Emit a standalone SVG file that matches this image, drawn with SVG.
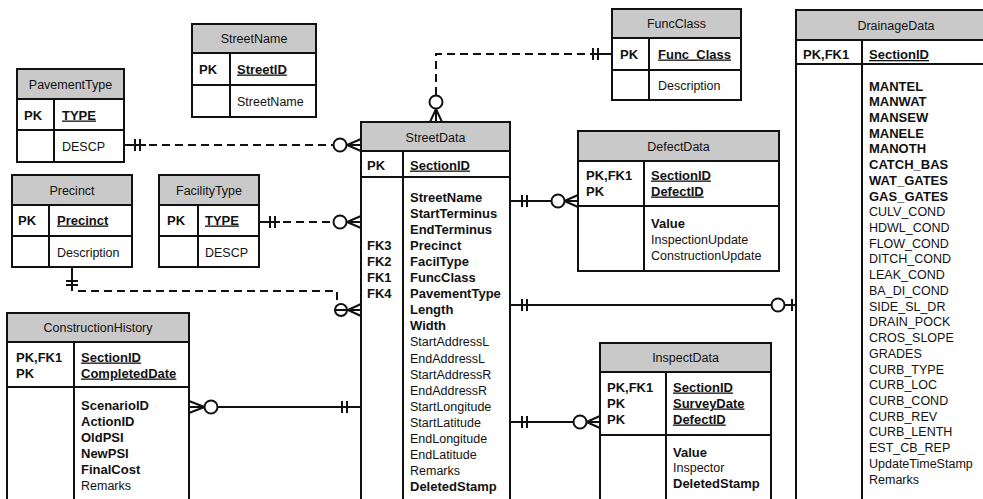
<svg xmlns="http://www.w3.org/2000/svg" width="983" height="499" viewBox="0 0 983 499">
<style>
  .box { fill: #ffffff; stroke: #111; stroke-width: 2; }
  .hd { fill: #c9c9c9; stroke: #111; stroke-width: 2; }
  .ln { stroke: #111; stroke-width: 2; fill: none; }
  text { font-family: "Liberation Sans", Arial, Helvetica, sans-serif; fill: #111; }
  .t { font-size: 12.5px; }
  .h { font-size: 12.5px; text-anchor: middle; }
  .b { font-size: 13px; font-weight: bold; }
  .u { text-decoration: underline; }
  .c { stroke: #111; stroke-width: 2; fill: none; }
  .d { stroke: #111; stroke-width: 2; fill: none; stroke-dasharray: 8 5; }
  .o { stroke: #111; stroke-width: 2; fill: #fff; }
</style>
<rect width="983" height="499" fill="#fff"/>

<!-- StreetName -->
<g id="StreetName">
  <rect class="box" x="192" y="24" width="124" height="93"/>
  <rect class="hd" x="192" y="24" width="124" height="29"/>
  <line class="ln" x1="192" y1="85" x2="316" y2="85"/>
  <line class="ln" x1="230" y1="53" x2="230" y2="117"/>
  <text class="h" x="254" y="42.5">StreetName</text>
  <text class="b" x="199" y="73.5">PK</text>
  <text class="b u" x="237" y="73.5">StreetID</text>
  <text class="t" x="237" y="105.5">StreetName</text>
</g>

<!-- PavementType -->
<g id="PavementType">
  <rect class="box" x="17" y="69" width="107" height="93"/>
  <rect class="hd" x="17" y="69" width="107" height="30"/>
  <line class="ln" x1="17" y1="130" x2="124" y2="130"/>
  <line class="ln" x1="54" y1="99" x2="54" y2="162"/>
  <text class="h" x="70.5" y="88.5">PavementType</text>
  <text class="b" x="24" y="119.5">PK</text>
  <text class="b u" x="62" y="119.5">TYPE</text>
  <text class="t" x="62" y="150.5">DESCP</text>
</g>

<!-- FuncClass -->
<g id="FuncClass">
  <rect class="box" x="612" y="9" width="129" height="91"/>
  <rect class="hd" x="612" y="9" width="129" height="29"/>
  <line class="ln" x1="612" y1="70" x2="741" y2="70"/>
  <line class="ln" x1="649" y1="38" x2="649" y2="100"/>
  <text class="h" x="676.5" y="27.5">FuncClass</text>
  <text class="b" x="620" y="58.5">PK</text>
  <text class="b u" x="658" y="58.5">Func_Class</text>
  <text class="t" x="658" y="89.5">Description</text>
</g>

<!-- Precinct -->
<g id="Precinct">
  <rect class="box" x="12" y="175" width="120" height="92"/>
  <rect class="hd" x="12" y="175" width="120" height="30"/>
  <line class="ln" x1="12" y1="236" x2="132" y2="236"/>
  <line class="ln" x1="49" y1="205" x2="49" y2="267"/>
  <text class="h" x="72" y="194.5">Precinct</text>
  <text class="b" x="18" y="224.5">PK</text>
  <text class="b u" x="57" y="224.5">Precinct</text>
  <text class="t" x="57" y="256.5">Description</text>
</g>

<!-- FacilityType -->
<g id="FacilityType">
  <rect class="box" x="159" y="175" width="100" height="92"/>
  <rect class="hd" x="159" y="175" width="100" height="30"/>
  <line class="ln" x1="159" y1="236" x2="259" y2="236"/>
  <line class="ln" x1="198" y1="205" x2="198" y2="267"/>
  <text class="h" x="209" y="194.5">FacilityType</text>
  <text class="b" x="167" y="224.5">PK</text>
  <text class="b u" x="205" y="224.5">TYPE</text>
  <text class="t" x="205" y="256.5">DESCP</text>
</g>

<!-- StreetData -->
<g id="StreetData">
  <rect class="box" x="361" y="122" width="149" height="385"/>
  <rect class="hd" x="361" y="122" width="149" height="29"/>
  <line class="ln" x1="361" y1="177" x2="510" y2="177"/>
  <line class="ln" x1="403" y1="151" x2="403" y2="507"/>
  <text class="h" x="435.5" y="141.5">StreetData</text>
  <text class="b" x="367" y="169.5">PK</text>
  <text class="b u" x="410" y="169.5">SectionID</text>
  <text class="b" x="367" y="249.8">FK3</text>
  <text class="b" x="367" y="265.9">FK2</text>
  <text class="b" x="367" y="282">FK1</text>
  <text class="b" x="367" y="298.1">FK4</text>
  <text class="b" x="410" y="201.5">StreetName</text>
  <text class="b" x="410" y="217.6">StartTerminus</text>
  <text class="b" x="410" y="233.7">EndTerminus</text>
  <text class="b" x="410" y="249.8">Precinct</text>
  <text class="b" x="410" y="265.9">FacilType</text>
  <text class="b" x="410" y="282">FuncClass</text>
  <text class="b" x="410" y="298.1">PavementType</text>
  <text class="b" x="410" y="314.2">Length</text>
  <text class="b" x="410" y="330.3">Width</text>
  <text class="t" x="410" y="346.4">StartAddressL</text>
  <text class="t" x="410" y="362.5">EndAddressL</text>
  <text class="t" x="410" y="378.6">StartAddressR</text>
  <text class="t" x="410" y="394.7">EndAddressR</text>
  <text class="t" x="410" y="410.8">StartLongitude</text>
  <text class="t" x="410" y="426.9">StartLatitude</text>
  <text class="t" x="410" y="443">EndLongitude</text>
  <text class="t" x="410" y="459.1">EndLatitude</text>
  <text class="t" x="410" y="475.2">Remarks</text>
  <text class="b" x="410" y="491.3">DeletedStamp</text>
</g>

<!-- DefectData -->
<g id="DefectData">
  <rect class="box" x="578" y="131" width="201" height="140"/>
  <rect class="hd" x="578" y="131" width="201" height="30"/>
  <line class="ln" x1="578" y1="206" x2="779" y2="206"/>
  <line class="ln" x1="644" y1="161" x2="644" y2="271"/>
  <text class="h" x="678.5" y="150.5">DefectData</text>
  <text class="b" x="586" y="179.5">PK,FK1</text>
  <text class="b" x="586" y="195.5">PK</text>
  <text class="b u" x="651" y="179.5">SectionID</text>
  <text class="b u" x="651" y="195.5">DefectID</text>
  <text class="b" x="651" y="227.5">Value</text>
  <text class="t" x="651" y="243.5">InspectionUpdate</text>
  <text class="t" x="651" y="259.5">ConstructionUpdate</text>
</g>

<!-- DrainageData -->
<g id="DrainageData">
  <rect class="box" x="796" y="10" width="200" height="500"/>
  <rect class="hd" x="796" y="10" width="200" height="30"/>
  <line class="ln" x1="796" y1="64" x2="996" y2="64"/>
  <line class="ln" x1="862" y1="40" x2="862" y2="510"/>
  <text class="h" x="896" y="29.5">DrainageData</text>
  <text class="b" x="803" y="59">PK,FK1</text>
  <text class="b u" x="869" y="59">SectionID</text>
  <text class="b" x="869" y="90.5">MANTEL</text>
  <text class="b" x="869" y="106.2">MANWAT</text>
  <text class="b" x="869" y="121.9">MANSEW</text>
  <text class="b" x="869" y="137.7">MANELE</text>
  <text class="b" x="869" y="153.4">MANOTH</text>
  <text class="b" x="869" y="169.1">CATCH_BAS</text>
  <text class="b" x="869" y="184.8">WAT_GATES</text>
  <text class="b" x="869" y="200.5">GAS_GATES</text>
  <text class="t" x="869" y="216.3">CULV_COND</text>
  <text class="t" x="869" y="232">HDWL_COND</text>
  <text class="t" x="869" y="247.7">FLOW_COND</text>
  <text class="t" x="869" y="263.4">DITCH_COND</text>
  <text class="t" x="869" y="279.1">LEAK_COND</text>
  <text class="t" x="869" y="294.9">BA_DI_COND</text>
  <text class="t" x="869" y="310.6">SIDE_SL_DR</text>
  <text class="t" x="869" y="326.3">DRAIN_POCK</text>
  <text class="t" x="869" y="342">CROS_SLOPE</text>
  <text class="t" x="869" y="357.7">GRADES</text>
  <text class="t" x="869" y="373.5">CURB_TYPE</text>
  <text class="t" x="869" y="389.2">CURB_LOC</text>
  <text class="t" x="869" y="404.9">CURB_COND</text>
  <text class="t" x="869" y="420.6">CURB_REV</text>
  <text class="t" x="869" y="436.3">CURB_LENTH</text>
  <text class="t" x="869" y="452.1">EST_CB_REP</text>
  <text class="t" x="869" y="467.8">UpdateTimeStamp</text>
  <text class="t" x="869" y="483.5">Remarks</text>
</g>

<!-- ConstructionHistory -->
<g id="ConstructionHistory">
  <rect class="box" x="7" y="313" width="182" height="197"/>
  <rect class="hd" x="7" y="313" width="182" height="29"/>
  <line class="ln" x1="7" y1="387" x2="189" y2="387"/>
  <line class="ln" x1="74" y1="342" x2="74" y2="510"/>
  <text class="h" x="98" y="331.5">ConstructionHistory</text>
  <text class="b" x="16" y="361.5">PK,FK1</text>
  <text class="b" x="16" y="377.5">PK</text>
  <text class="b u" x="81" y="361.5">SectionID</text>
  <text class="b u" x="81" y="377.5">CompletedDate</text>
  <text class="b" x="81" y="409.5">ScenarioID</text>
  <text class="b" x="81" y="425.5">ActionID</text>
  <text class="b" x="81" y="441.5">OldPSI</text>
  <text class="b" x="81" y="457.5">NewPSI</text>
  <text class="b" x="81" y="473.5">FinalCost</text>
  <text class="t" x="81" y="489.5">Remarks</text>
</g>

<!-- InspectData -->
<g id="InspectData">
  <rect class="box" x="600" y="343" width="171" height="167"/>
  <rect class="hd" x="600" y="343" width="171" height="29"/>
  <line class="ln" x1="600" y1="435" x2="771" y2="435"/>
  <line class="ln" x1="666" y1="372" x2="666" y2="510"/>
  <text class="h" x="685.5" y="361.5">InspectData</text>
  <text class="b" x="607" y="391.5">PK,FK1</text>
  <text class="b" x="607" y="407.5">PK</text>
  <text class="b" x="607" y="423.5">PK</text>
  <text class="b u" x="673" y="391.5">SectionID</text>
  <text class="b u" x="673" y="407.5">SurveyDate</text>
  <text class="b u" x="673" y="423.5">DefectID</text>
  <text class="b" x="673" y="456.5">Value</text>
  <text class="t" x="673" y="471.5">Inspector</text>
  <text class="b" x="673" y="487.5">DeletedStamp</text>
</g>

<!-- Relationships -->
<g id="connectors">
  <!-- PavementType 1 : N StreetData -->
  <path class="c" d="M124 145 H146"/>
  <path class="c" d="M135 139 V151 M140 139 V151"/>
  <path class="d" d="M149 145 H333"/>
  <circle class="o" cx="340" cy="145" r="6.5"/>
  <path class="c" d="M347 145 H361 M347 145 L361 139 M347 145 L361 151"/>

  <!-- FacilityType 1 : N StreetData -->
  <path class="c" d="M259 222 H280"/>
  <path class="c" d="M270 216 V228 M275 216 V228"/>
  <path class="d" d="M283 222 H333"/>
  <circle class="o" cx="340" cy="222" r="6.5"/>
  <path class="c" d="M347 222 H361 M347 222 L361 216 M347 222 L361 228"/>

  <!-- Precinct 1 : N StreetData -->
  <path class="c" d="M72 267 V291"/>
  <path class="c" d="M66 281 H78 M66 285 H78"/>
  <path class="d" d="M78 291 H337 V304"/>
  <path class="c" d="M334 310 H361"/>
  <circle class="o" cx="341" cy="310" r="6" fill="none" style="fill:none"/>
  <path class="c" d="M348 310 L361 304 M348 310 L361 316"/>

  <!-- FuncClass 1 : N StreetData -->
  <path class="d" d="M436 95 V54 H588"/>
  <path class="c" d="M590 54 H612"/>
  <path class="c" d="M593 48 V60 M598 48 V60"/>
  <circle class="o" cx="436" cy="102" r="6.5"/>
  <path class="c" d="M436 109 V122 M436 109 L430 122 M436 109 L442 122"/>

  <!-- StreetData 1 : N DefectData -->
  <path class="c" d="M510 201 H551.5"/>
  <path class="c" d="M522 195 V207 M527 195 V207"/>
  <circle class="o" cx="558" cy="201" r="6.5"/>
  <path class="c" d="M564.5 201 H578 M564.5 201 L578 195 M564.5 201 L578 207"/>

  <!-- StreetData 1 : 0..1 DrainageData -->
  <path class="c" d="M510 305 H771.5"/>
  <path class="c" d="M522 299 V311 M527 299 V311"/>
  <circle class="o" cx="778" cy="305" r="6.5"/>
  <path class="c" d="M784.5 305 H796 M792 299 V311"/>

  <!-- StreetData 1 : N InspectData -->
  <path class="c" d="M510 422 H573.5"/>
  <path class="c" d="M522 416 V428 M527 416 V428"/>
  <circle class="o" cx="580" cy="422" r="6.5"/>
  <path class="c" d="M586.5 422 H600 M586.5 422 L600 416 M586.5 422 L600 428"/>

  <!-- StreetData 1 : N ConstructionHistory -->
  <path class="c" d="M361 407 H217.5"/>
  <path class="c" d="M342 401 V413 M347 401 V413"/>
  <circle class="o" cx="211" cy="407" r="6.5"/>
  <path class="c" d="M204.5 407 H189 M204.5 407 L189 401 M204.5 407 L189 413"/>
</g>
</svg>
